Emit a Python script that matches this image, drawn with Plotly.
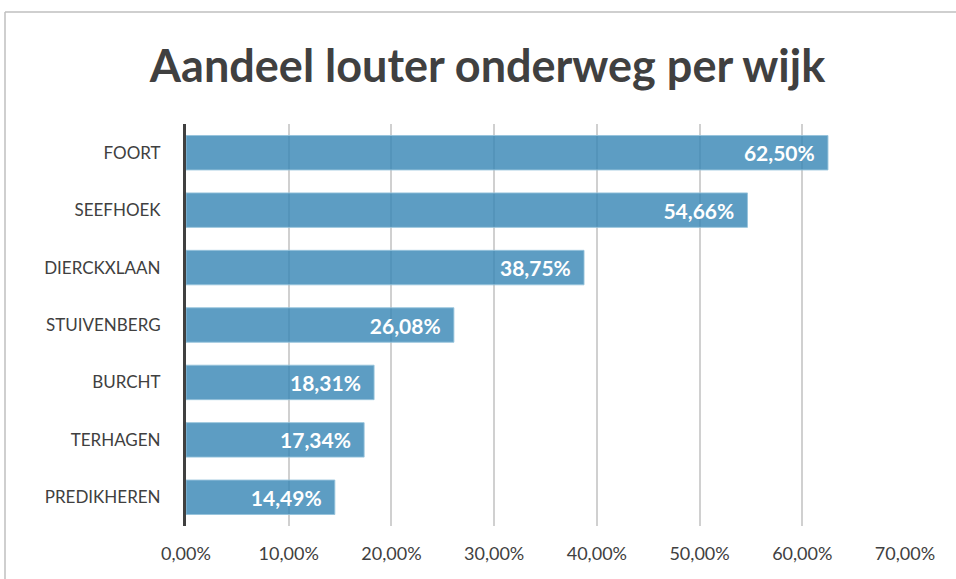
import plotly.graph_objects as go

wijken = ['FOORT', 'SEEFHOEK', 'DIERCKXLAAN', 'STUIVENBERG', 'BURCHT', 'TERHAGEN', 'PREDIKHEREN']
aandeel = [62.50, 54.66, 38.75, 26.08, 18.31, 17.34, 14.49]
tick_vals = [0, 10, 20, 30, 40, 50, 60, 70]
tick_text = ['0,00%', '10,00%', '20,00%', '30,00%', '40,00%', '50,00%', '60,00%', '70,00%']

# data labels, with a little padding on the right like the original
labels = [f'{v:.2f}%'.replace('.', ',') + '&nbsp;&nbsp;' for v in aandeel]

FONT = 'Lato'

W, H = 956, 579
ml, mr, mt, mb = 186, 51, 124, 53
pw, ph = W - ml - mr, H - mt - mb

fig = go.Figure()
fig.add_trace(go.Bar(
    x=aandeel, y=wijken, orientation='h',
    marker=dict(color='rgba(52,133,180,0.8)', line=dict(color='rgba(150,195,220,0.9)', width=1)),
    text=labels, textposition='inside', insidetextanchor='end',
    textfont=dict(family=FONT, size=21, color='white', weight='bold'),
    cliponaxis=False,
))

fig.update_layout(
    width=W, height=H,
    margin=dict(l=ml, r=mr, t=mt, b=mb),
    paper_bgcolor='white', plot_bgcolor='white',
    bargap=0.4,
    showlegend=False,
    title=dict(text='<b>Aandeel louter onderweg per wijk</b>', x=0.51, xanchor='center',
               y=1 - 66 / H, yanchor='middle',
               font=dict(family=FONT, size=45, color='#404040')),
    font=dict(family=FONT, size=18, color='#404040'),
    xaxis=dict(range=[0, 70], tickvals=tick_vals, ticktext=tick_text,
               showgrid=True, gridcolor='#d0d0d0', gridwidth=1.5,
               zeroline=False, showline=False,
               ticks='outside', ticklen=11, tickcolor='rgba(0,0,0,0)',
               tickfont=dict(family=FONT, size=18, color='#404040')),
    yaxis=dict(autorange='reversed', showline=True, linecolor='#404040', linewidth=3,
               ticks='outside', ticklen=19, tickcolor='rgba(0,0,0,0)',
               tickfont=dict(family=FONT, size=17, color='#404040')),
)

# frame around the chart area
x0 = (5 - ml) / pw
y0 = (H - mb - 12) / ph
fig.add_shape(type='line', xref='paper', yref='paper', x0=x0, x1=(W - ml) / pw, y0=y0, y1=y0,
              line=dict(color='#bfbfbf', width=1.5))
fig.add_shape(type='line', xref='paper', yref='paper', x0=x0, x1=x0, y0=y0, y1=-mb / ph,
              line=dict(color='#bfbfbf', width=1.5))

fig.write_html('out.html', config={'displayModeBar': False},
               post_script="document.body.style.margin='0';document.body.style.overflow='hidden';")
